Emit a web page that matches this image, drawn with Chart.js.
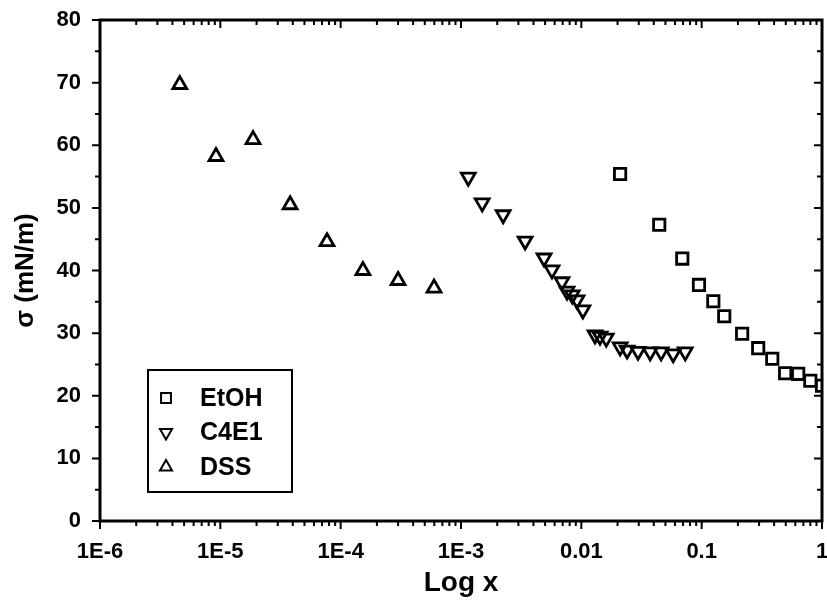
<!DOCTYPE html>
<html><head><meta charset="utf-8">
<script src="https://cdn.jsdelivr.net/npm/chart.js@4/dist/chart.umd.min.js"></script>
<style>html,body{margin:0;padding:0;background:#fff}#wrap{width:827px;height:604px}</style>
</head><body><div id="wrap"><canvas id="c" width="827" height="604"></canvas></div>
<script>
// ---- data ----
const etohX = [0.021, 0.0444, 0.069, 0.095, 0.125, 0.154, 0.217, 0.295, 0.386, 0.494, 0.634, 0.80, 1.0];
const etohY = [55.4, 47.3, 41.9, 37.7, 35.1, 32.7, 29.9, 27.6, 25.9, 23.6, 23.5, 22.4, 21.6];
const c4e1X = [1.15e-3, 1.5e-3, 2.24e-3, 3.41e-3, 4.9e-3, 5.7e-3, 6.9e-3, 7.6e-3, 8.4e-3, 9.2e-3, 1.03e-2, 0.013, 0.0143, 0.0161, 0.021, 0.024, 0.0296, 0.0373, 0.046, 0.058, 0.073];
const c4e1Y = [54.9, 50.8, 48.9, 44.7, 42.0, 40.1, 38.2, 36.7, 36.1, 35.3, 33.7, 29.7, 29.5, 29.2, 27.8, 27.3, 27.1, 27.0, 27.0, 26.7, 27.0];
const dssX = [4.6e-6, 9.2e-6, 1.87e-5, 3.8e-5, 7.7e-5, 1.53e-4, 3.0e-4, 5.97e-4];
const dssY = [69.7, 58.2, 60.9, 50.5, 44.6, 40.0, 38.4, 37.2];
const seriesNames = ['EtOH', 'C4E1', 'DSS'];
const xTickValues = [1e-6, 1e-5, 1e-4, 1e-3, 1e-2, 1e-1, 1];
const xTickLabels = ['1E-6', '1E-5', '1E-4', '1E-3', '0.01', '0.1', '1'];
const yTickValues = [0, 10, 20, 30, 40, 50, 60, 70, 80];
const xTitle = 'Log x';
const yTitle = 'σ (mN/m)';

const FONT = '"Liberation Sans", Arial, sans-serif';
const pts = (xs, ys) => xs.map((x, i) => ({x: x, y: ys[i]}));

const framePlugin = {
  id: 'frame',
  afterDraw(chart) {
    const ctx = chart.ctx, a = chart.chartArea;
    const xs = chart.scales.x, ys = chart.scales.y;
    ctx.save();
    ctx.strokeStyle = '#000';
    ctx.lineCap = 'butt';
    ctx.lineWidth = 2;
    ctx.beginPath();
    for (let d = -6; d <= 0; d++) {
      for (let m = 1; m <= 9; m++) {
        const v = m * Math.pow(10, d);
        if (v > 1.0000001) break;
        const px = xs.getPixelForValue(v);
        const len = m === 1 ? 8 : 5;
        ctx.moveTo(px, a.bottom); ctx.lineTo(px, a.bottom + len);
        ctx.moveTo(px, a.top); ctx.lineTo(px, a.top + len);
      }
    }
    for (let v = 0; v <= 80; v += 5) {
      const py = ys.getPixelForValue(v);
      const len = v % 10 === 0 ? 8 : 5;
      ctx.moveTo(a.left, py); ctx.lineTo(a.left - len, py);
      ctx.moveTo(a.right, py); ctx.lineTo(a.right - len, py);
    }
    ctx.stroke();
    ctx.lineWidth = 3;
    ctx.strokeRect(a.left, a.top, a.right - a.left, a.bottom - a.top);
    // legend
    const bx = 148, by = 370, bw = 144, bh = 122;
    ctx.lineWidth = 2;
    ctx.strokeRect(bx, by, bw, bh);
    ctx.font = 'bold 25px ' + FONT;
    ctx.fillStyle = '#000';
    ctx.textBaseline = 'middle';
    ctx.textAlign = 'left';
    chart.data.datasets.forEach((ds, i) => {
      const y = by + 28 + i * 34.5;
      ctx.save();
      ctx.fillStyle = 'rgba(0,0,0,0)';
      ctx.strokeStyle = '#000';
      ctx.lineWidth = 2;
      Chart.helpers.drawPoint(ctx, {pointStyle: ds.pointStyle, rotation: ds.pointRotation || 0, radius: 7, borderWidth: 2}, bx + 18, y);
      ctx.restore();
      ctx.fillText(ds.label, bx + 52, y + 1);
    });
    ctx.restore();
  }
};

new Chart(document.getElementById('c'), {
  type: 'scatter',
  data: {
    datasets: [
      {label: seriesNames[0], data: pts(etohX, etohY), pointStyle: 'rect', pointRotation: 0},
      {label: seriesNames[1], data: pts(c4e1X, c4e1Y), pointStyle: 'triangle', pointRotation: 180},
      {label: seriesNames[2], data: pts(dssX, dssY), pointStyle: 'triangle', pointRotation: 0}
    ].map(d => Object.assign(d, {
      pointRadius: 8, pointHoverRadius: 8, pointBorderWidth: 2.8,
      borderColor: '#000', pointBorderColor: '#000',
      backgroundColor: 'rgba(0,0,0,0)', pointBackgroundColor: 'rgba(0,0,0,0)',
      showLine: false
    }))
  },
  plugins: [framePlugin],
  options: {
    responsive: false, animation: false, devicePixelRatio: 1,
    layout: {autoPadding: false, padding: {top: 20, right: 5, left: 0, bottom: 0}},
    plugins: {legend: {display: false}, tooltip: {enabled: false}},
    scales: {
      x: {
        type: 'logarithmic', min: 1e-6, max: 1,
        afterBuildTicks: s => { s.ticks = xTickValues.map(v => ({value: v})); },
        afterFit: s => { s.height = 83; s.paddingLeft = 0; s.paddingRight = 0; },
        grid: {display: false},
        border: {display: false},
        ticks: {autoSkip: false, maxRotation: 0, padding: 10, color: '#000',
          font: {family: FONT, size: 22, weight: 'bold'},
          callback: (v) => { const i = xTickValues.findIndex(t => Math.abs(Math.log10(t) - Math.log10(v)) < 1e-6); return i >= 0 ? xTickLabels[i] : ''; }},
        title: {display: true, text: xTitle, color: '#000', padding: {top: 0, bottom: 4},
          font: {family: FONT, size: 28, weight: 'bold'}}
      },
      y: {
        type: 'linear', min: 0, max: 80,
        afterBuildTicks: s => { s.ticks = yTickValues.map(v => ({value: v})); },
        afterFit: s => { s.width = 100; s.paddingTop = 0; s.paddingBottom = 0; },
        grid: {display: false},
        border: {display: false},
        ticks: {padding: 11, color: '#000', font: {family: FONT, size: 22, weight: 'bold'},
          callback: v => String(v)},
        title: {display: true, text: yTitle, color: '#000', padding: {top: 10, bottom: 0},
          font: {family: FONT, size: 26, weight: 'bold'}}
      }
    }
  }
});
</script></body></html>
